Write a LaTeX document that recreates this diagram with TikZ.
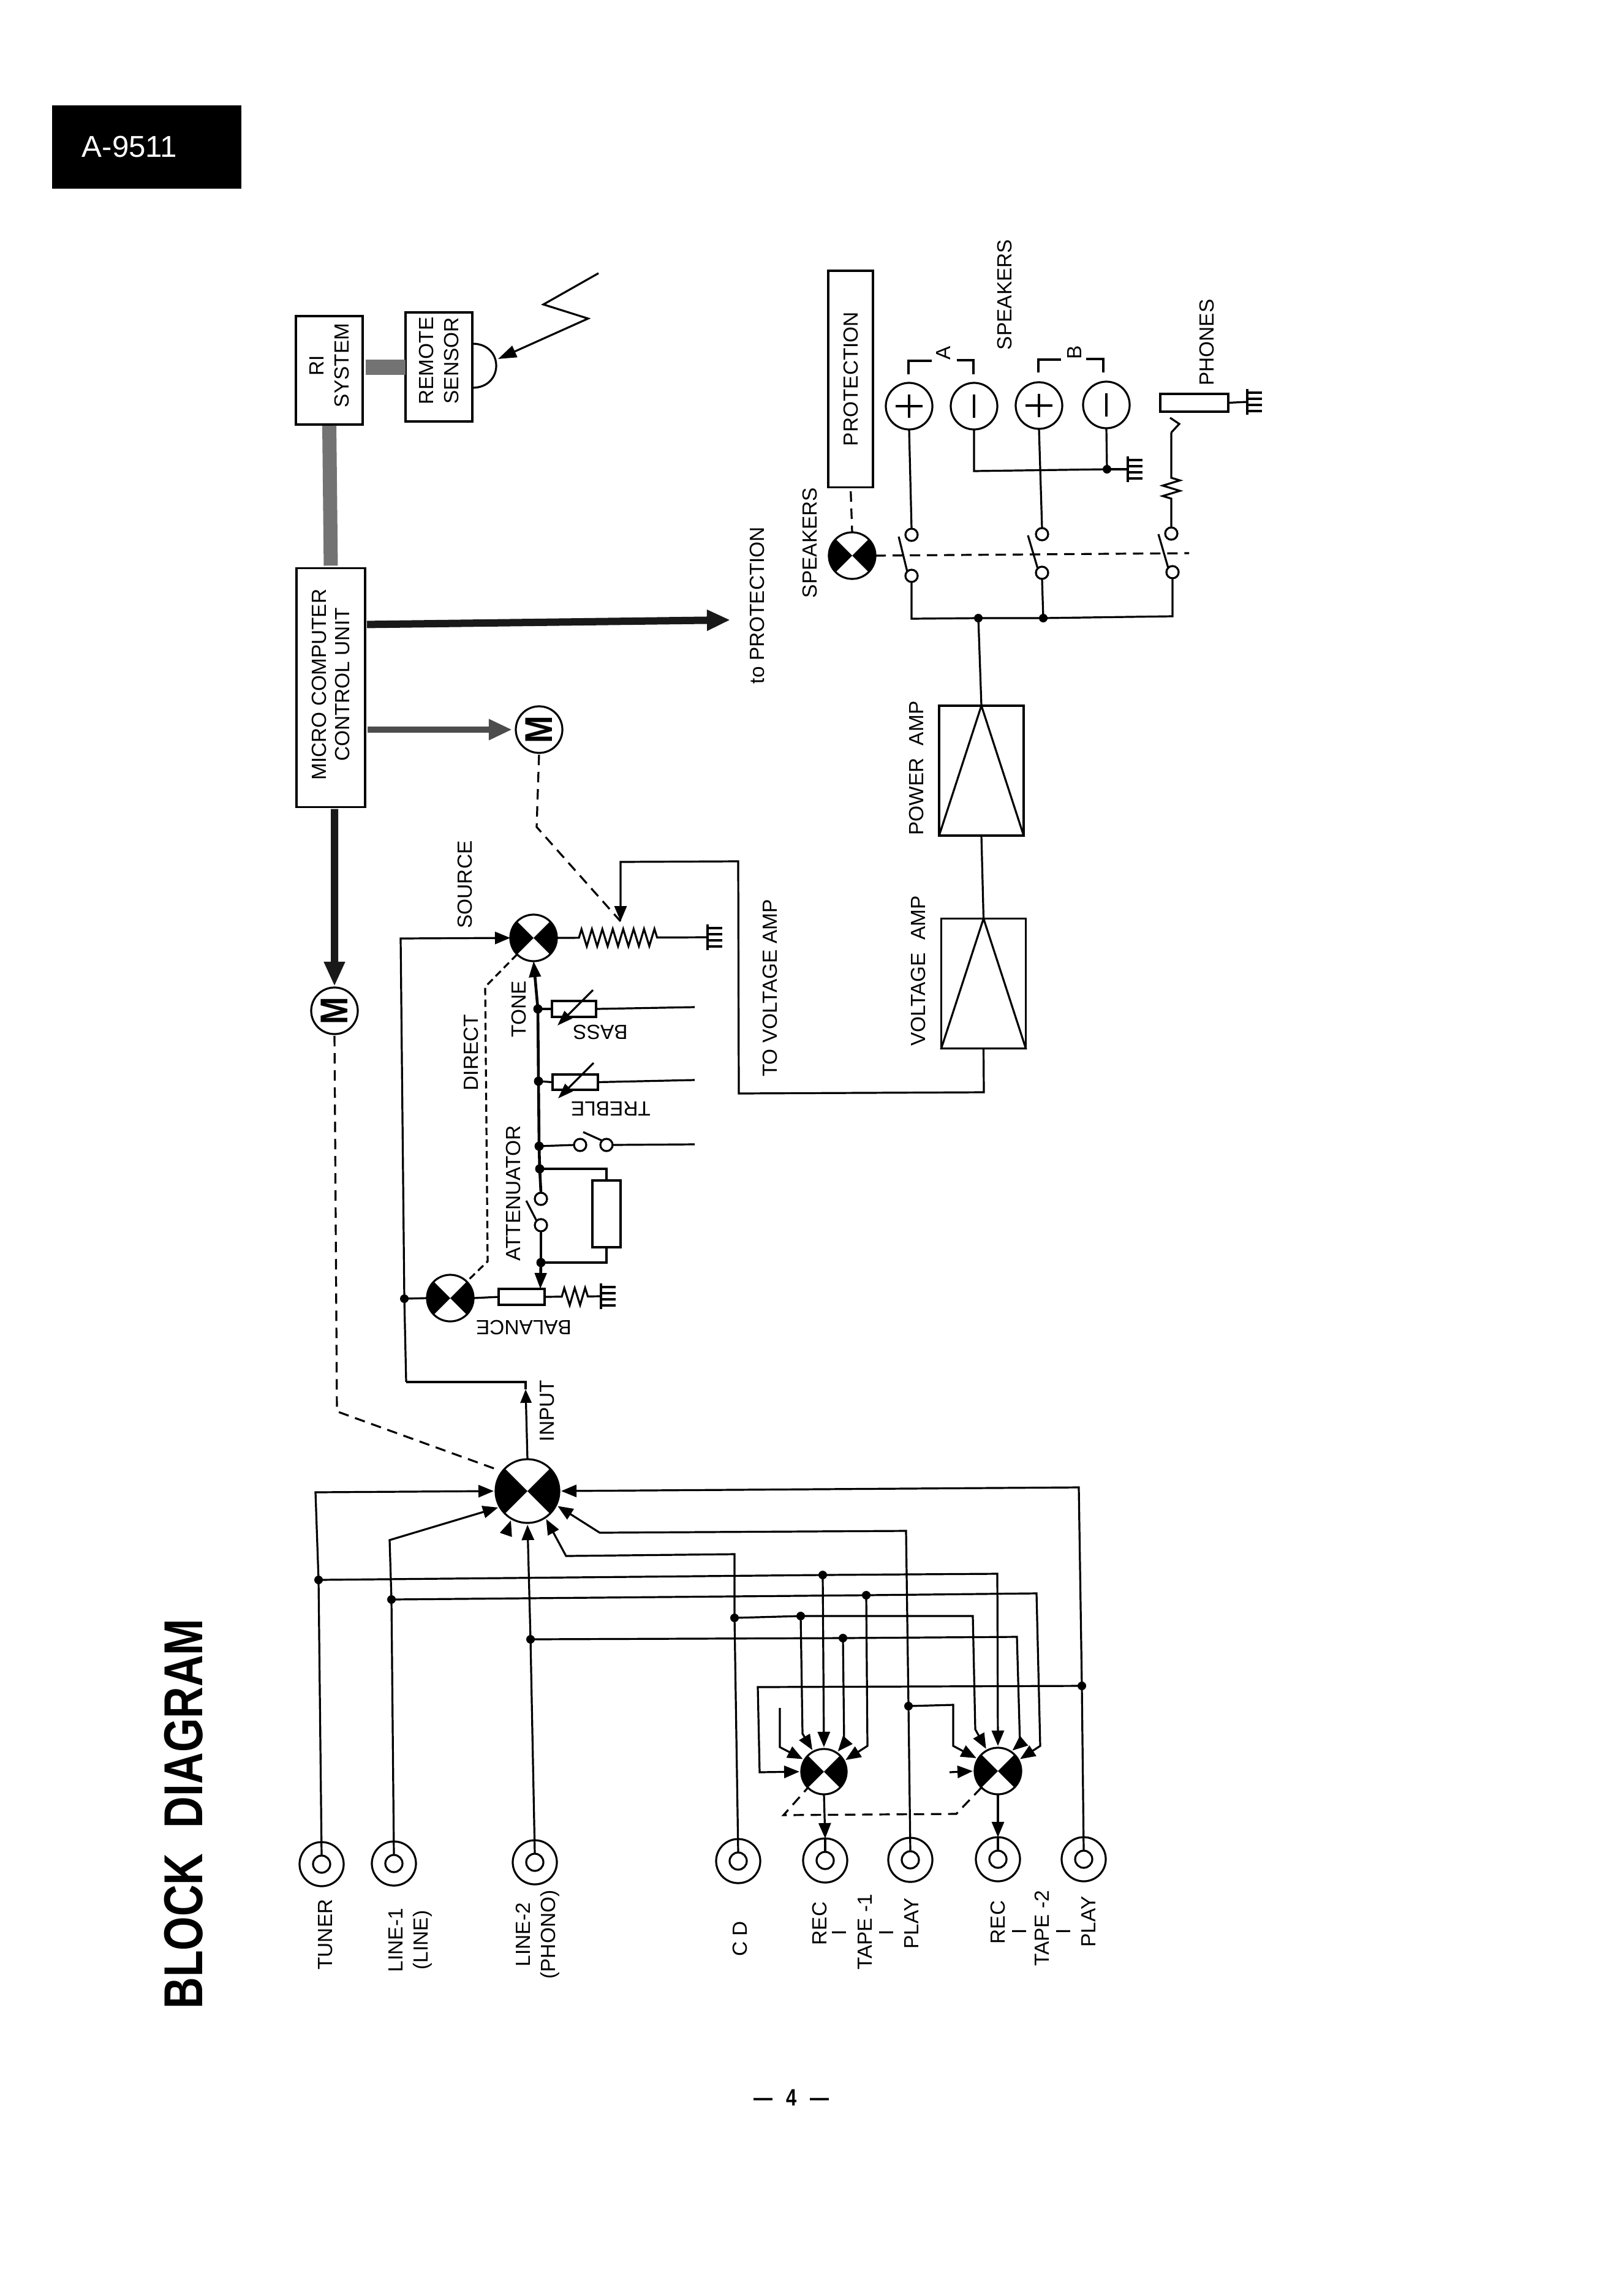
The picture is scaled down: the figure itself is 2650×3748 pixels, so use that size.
\documentclass[tikz,border=0pt]{standalone}
\usepackage{fontspec}
\setmainfont{Liberation Sans}
\usetikzlibrary{arrows.meta,decorations.pathmorphing}
\tikzset{
  wire/.style={line width=.032cm,line join=miter},
  heavy/.style={line width=.046cm},
  arr/.style={wire,-{Triangle[length=.25cm,width=.2cm]},shorten >=.03cm},
  dashline/.style={wire,dash pattern=on .17cm off .11cm},
  finedash/.style={wire,dash pattern=on .12cm off .07cm},
  lbl/.style={rotate=90,font=\fontsize{9.5}{11.5}\selectfont,inner sep=0pt,outer sep=0pt,align=center},
  flip/.style={rotate=180,font=\fontsize{9.5}{11.5}\selectfont,inner sep=0pt,outer sep=0pt},
  plainbox/.style={draw,wire,rectangle,inner sep=0pt,outer sep=0pt},
  dot/.style={circle,fill=black,minimum size=.14cm,inner sep=0pt,outer sep=0pt},
  contact/.style={circle,draw,wire,fill=white,minimum size=.2cm,inner sep=0pt,outer sep=0pt},
  ringin/.style={circle,draw,wire,minimum size=.28cm,inner sep=0pt,outer sep=0pt},
  ringout/.style={circle,draw,wire,minimum size=.72cm,inner sep=0pt,outer sep=0pt},
  spk/.style={circle,draw,wire,minimum size=.76cm,inner sep=0pt,outer sep=0pt},
  motor/.style={circle,draw,wire,rotate=90,minimum size=.76cm,inner sep=0pt,outer sep=0pt},
  selector/.style={circle,draw,wire,fill=white,minimum size=#1,inner sep=0pt,outer sep=0pt,
    path picture={
      \fill[black] (path picture bounding box.center) -- +(135:2cm) -- +(225:2cm) -- cycle;
      \fill[black] (path picture bounding box.center) -- +(45:2cm) -- +(-45:2cm) -- cycle;
    }},
  squiggle/.style n args={2}{wire,decorate,decoration={zigzag,segment length=.17cm,amplitude=.14cm,
    pre=lineto,pre length=#1,post=lineto,post length=#2}},
  gnd/.pic={
    \draw[wire] (0,-21) -- (0,21);
    \draw[wire] (0,-15) -- (24,-15) (0,-5) -- (24,-5) (0,5) -- (24,5) (0,15) -- (24,15);
  },
  busgray/.style={color=black!55},
}
\begin{document}
\begin{tikzpicture}[x=.01cm,y=-.01cm]
\useasboundingbox (0,0) rectangle (2650,3748);
\fill[white] (0,0) rectangle (2650,3748);

% ---- page furniture
\node[fill=black,text=white,minimum width=3.09cm,minimum height=1.36cm,inner sep=0pt,
      font=\fontsize{14}{16}\selectfont] (model) at (239.5,240)
      {\raisebox{-.05cm}{A-9511}\hspace*{.56cm}};
\node[rotate=90,inner sep=0pt] (title) at (300,2961)
      {\scalebox{.8}[1]{\bfseries\fontsize{25.4}{30}\selectfont BLOCK\hspace{.58em}DIAGRAM}};
\node[inner sep=0pt] (page) at (1292,3424)
      {\scalebox{.8}[1]{\bfseries\fontsize{11}{13}\selectfont —\hspace{.7em}4\hspace{.7em}—}};

% ---- control section
\node[plainbox,lbl,minimum width=1.77cm,minimum height=1.09cm] (ri) at (537.5,604.5)
      {\hspace*{.16cm}RI\\\hspace*{.16cm}SYSTEM};
\node[plainbox,lbl,minimum width=1.78cm,minimum height=1.09cm] (remote) at (716.5,599)
      {\hspace*{.2cm}REMOTE\\\hspace*{.2cm}SENSOR};
\node[plainbox,lbl,minimum width=3.9cm,minimum height=1.12cm,font=\fontsize{9.5}{10.8}\selectfont] (micro) at (540,1122.5)
      {\hspace*{.1cm}MICRO COMPUTER\\\hspace*{.1cm}CONTROL UNIT};
\node[motor] (mTop) at (880,1191) {\scalebox{.85}[1]{\bfseries\fontsize{18}{20}\selectfont M}};
\node[motor] (mLow) at (546,1650) {\scalebox{.85}[1]{\bfseries\fontsize{18}{20}\selectfont M}};

\coordinate (domeA) at (771,561);
\coordinate (domeB) at (771,633);
\draw[wire] (domeA) .. controls (823,561) and (823,633) .. (domeB);
\coordinate (wave1) at (977,446);
\coordinate (wave2) at (887,497);
\coordinate (wave3) at (960,520);
\coordinate (waveTip) at (813,586);
\draw[wire,-{Triangle[length=.3cm,width=.2cm]}] (wave1) -- (wave2) -- (wave3) -- (waveTip);

\draw[line width=.25cm,busgray,shorten <=.05cm] (ri.south |- remote.north) -- (remote.north);
\draw[line width=.23cm,busgray,shorten <=.02cm,shorten >=.04cm] (ri.west) -- (micro.east);

\coordinate (protTip) at (1192,1012);
\draw[line width=.12cm,black!90,-{Triangle[length=.38cm,width=.32cm]},shorten <=.03cm]
     ([yshift=1.03cm]micro.south) -- (protTip);
\draw[line width=.1cm,black!70,-{Triangle[length=.38cm,width=.32cm]},shorten <=.04cm,shorten >=.06cm]
     ([yshift=-.685cm]micro.south) -- (mTop.north);
\draw[line width=.12cm,black!90,-{Triangle[length=.4cm,width=.32cm]},shorten <=.03cm,shorten >=.02cm]
     ([xshift=.06cm]micro.west) -- (mLow.east);

% ---- input connectors
\node[ringin] (tTuner) at (525,3043) {};  \node[ringout] (oTuner) at (525,3043) {};
\node[ringin] (tLineA) at (643,3042) {};  \node[ringout] (oLineA) at (643,3042) {};
\node[ringin] (tLineB) at (873,3040) {};  \node[ringout] (oLineB) at (873,3040) {};
\node[ringin] (tCd) at (1205,3038) {};    \node[ringout] (oCd) at (1205,3038) {};
\node[ringin] (tRecA) at (1347,3037) {};  \node[ringout] (oRecA) at (1347,3037) {};
\node[ringin] (tPlayA) at (1486,3036) {}; \node[ringout] (oPlayA) at (1486,3036) {};
\node[ringin] (tRecB) at (1629,3035) {};  \node[ringout] (oRecB) at (1629,3035) {};
\node[ringin] (tPlayB) at (1769,3035) {}; \node[ringout] (oPlayB) at (1769,3035) {};

\node[lbl] (nTuner) at (531,3158) {TUNER};
\node[lbl] (nLineA) at (670,3167) {LINE-1\\(LINE)};
\node[lbl] (nLineB) at (878,3158) {LINE-2\\(PHONO)};
\node[lbl] (nCd) at (1208,3165) {C D};
\node[lbl] (nRecA) at (1338,3140) {REC};
\node[lbl] (nBarA) at (1370,3155) {I};
\node[lbl] (nTapeA) at (1412,3154) {TAPE -1};
\node[lbl] (nBarB) at (1447,3155) {I};
\node[lbl] (nPlayA) at (1488,3140) {PLAY};
\node[lbl] (nRecB) at (1629,3138) {REC};
\node[lbl] (nBarC) at (1664,3153) {I};
\node[lbl] (nTapeB) at (1701,3148) {TAPE -2};
\node[lbl] (nBarD) at (1736,3153) {I};
\node[lbl] (nPlayB) at (1777,3137) {PLAY};

% ---- input selector and tape monitor selectors
\node[selector=1.04cm] (sMain) at (861,2434) {};
\node[selector=.74cm] (sTapeA) at (1345,2892) {};
\node[selector=.76cm] (sTapeB) at (1629,2891) {};

\node[dot] (dTuner) at (520,2579) {};
\node[dot] (dTunerA) at (1343,2571) {};
\node[dot] (dLineA) at (639,2611) {};
\node[dot] (dLineAA) at (1414,2604) {};
\node[dot] (dLineB) at (866,2676) {};
\node[dot] (dLineBA) at (1376,2674) {};
\node[dot] (dCd) at (1199,2641) {};
\node[dot] (dCdA) at (1307,2638) {};
\node[dot] (dPlayA) at (1483,2785) {};
\node[dot] (dPlayB) at (1766,2752) {};

\coordinate (tunerTop) at (515,2436);
\coordinate (tunerEnd) at (1628,2569);
\coordinate (lineAKnee) at (636,2514);
\coordinate (lineAEnd) at (1692,2601);
\coordinate (lineATapeB) at (1698,2850);
\coordinate (lineATapeA) at (1416,2850);
\coordinate (lineBEnd) at (1660,2672);
\coordinate (lineBTapeB) at (1665,2847);
\coordinate (lineBTapeA) at (1378,2847);
\coordinate (cdTop) at (1199,2537);
\coordinate (cdKnee) at (924,2540);
\coordinate (cdEnd) at (1588,2638);
\coordinate (cdTapeB) at (1592,2823);
\coordinate (cdTapeA) at (1310,2830);
\coordinate (playATop) at (1479,2499);
\coordinate (playAKnee) at (979,2502);
\coordinate (playAEnd) at (1556,2783);
\coordinate (playATape) at (1556,2850);
\coordinate (playBTop) at (1761,2428);
\coordinate (playBEnd) at (1237,2754);
\coordinate (playBLow) at (1240,2893);
\coordinate (stubATop) at (1273,2788);
\coordinate (stubAKnee) at (1273,2852);
\coordinate (stubB) at (1550,2893);
\coordinate (stubMain) at (826,2505);

% tuner
\draw[wire] (tTuner.north) -- (dTuner.center);
\draw[arr] (dTuner.center) -- (tunerTop) -- (sMain.180);
\draw[arr] (dTuner.center) -- (dTunerA.center) -- (tunerEnd) -- (sTapeB.90);
\draw[arr] (dTunerA.center) -- (sTapeA.90);
% line 1
\draw[arr] (tLineA.north) -- (dLineA.center) -- (lineAKnee) -- (sMain.210);
\draw[arr] (dLineA.center) -- (dLineAA.center) -- (lineAEnd) -- (lineATapeB) -- (sTapeB.28);
\draw[arr] (dLineAA.center) -- (lineATapeA) -- (sTapeA.28);
% line 2
\draw[arr] (tLineB.north) -- (dLineB.center) -- (sMain.270);
\draw[arr] (dLineB.center) -- (dLineBA.center) -- (lineBEnd) -- (lineBTapeB) -- (sTapeB.56);
\draw[arr] (dLineBA.center) -- (lineBTapeA) -- (sTapeA.56);
% compact disc
\draw[arr] (tCd.north) -- (dCd.center) -- (cdTop) -- (cdKnee) -- (sMain.304);
\draw[arr] (dCd.center) -- (dCdA.center) -- (cdEnd) -- (cdTapeB) -- (sTapeB.118);
\draw[arr] (dCdA.center) -- (cdTapeA) -- (sTapeA.118);
% tape play returns
\draw[arr] (tPlayA.north) -- (dPlayA.center) -- (playATop) -- (playAKnee) -- (sMain.334);
\draw[arr] (dPlayA.center) -- (playAEnd) -- (playATape) -- (sTapeB.149);
\draw[arr] (tPlayB.north) -- (dPlayB.center) -- (playBTop) -- (sMain.0);
\draw[arr] (dPlayB.center) -- (playBEnd) -- (playBLow) -- (sTapeA.180);
% unconnected selector inputs
\draw[arr] (stubATop) -- (stubAKnee) -- (sTapeA.149);
\draw[arr] (stubB) -- (sTapeB.180);
\draw[arr] (stubMain) -- (sMain.240);
% recording outputs
\draw[arr,shorten >=0pt] (sTapeA.south) -- (oRecA.north);
\draw[wire] (oRecA.north) -- (tRecA.north);
\draw[arr,shorten >=0pt] (sTapeB.south) -- (oRecB.north);
\draw[wire] (oRecB.north) -- (tRecB.north);
% mechanical ganging of the tape selectors
\coordinate (gangA) at (1279,2963);
\coordinate (gangB) at (1561,2961);
\draw[dashline] (sTapeB.225) -- (gangB) -- (gangA) -- (sTapeA.225);

\node[lbl] (nInput) at (893,2303) {INPUT};
\coordinate (inputTip) at (858,2268);
\coordinate (inputTop) at (858,2256);
\coordinate (inputLeft) at (663,2256);
\coordinate (sourceCorner) at (654,1532);
\draw[wire,-{Triangle[length=.22cm,width=.18cm]}] (sMain.north) -- (inputTip);
\draw[wire] (inputTip) -- (inputTop) -- (inputLeft);

% ---- source selector, tone and balance
\node[selector=.76cm] (sSource) at (871,1531) {};
\node[selector=.76cm] (sBalance) at (735,2119) {};
\node[dot] (dInput) at (660,2120) {};
\draw[wire] (inputLeft) -- (dInput.center);
\draw[arr,shorten >=0pt] (dInput.center) -- (sourceCorner) -- (sSource.west);
\draw[wire] (dInput.center) -- (sBalance.west);

\node[plainbox,minimum width=.75cm,minimum height=.26cm] (balance) at (851.5,2117) {};
\node[plainbox,minimum width=.72cm,minimum height=.26cm] (bass) at (937,1647) {};
\node[plainbox,minimum width=.74cm,minimum height=.25cm] (treble) at (939,1766.5) {};
\node[plainbox,minimum width=.46cm,minimum height=1.09cm] (attRes) at (990,1981.5) {};

\node[dot,minimum size=.15cm] (dBass) at (878,1647) {};
\node[dot,minimum size=.15cm] (dTreble) at (879,1765) {};
\node[dot,minimum size=.15cm] (dSwitch) at (880,1871) {};
\node[dot,minimum size=.15cm] (dAttA) at (881,1908) {};
\node[dot,minimum size=.15cm] (dAttB) at (883,2061) {};
\node[contact] (cAttA) at (883,1957) {};
\node[contact] (cAttB) at (883,2000) {};
\node[contact] (cFlatA) at (947,1869) {};
\node[contact] (cFlatB) at (990,1869) {};

\draw[heavy,-{Triangle[length=.26cm,width=.19cm]}] (dAttA.center) -- (dSwitch.center) -- (dTreble.center) -- (dBass.center) -- (sSource.south);
\draw[heavy] (dAttA.center) -- (cAttA.north);
\draw[heavy] (cAttB.south) -- (dAttB.center);
\draw[heavy] (dAttA.center) -| (attRes.north);
\draw[heavy] (attRes.south) |- (dAttB.center);
\coordinate (bladeAtt) at (859,1960);
\draw[wire] (bladeAtt) -- (cAttB.north west);
\coordinate (balanceTap) at (882,2104);
\draw[heavy,-{Triangle[length=.26cm,width=.19cm]}] (dAttB.center) -- (balanceTap);

\coordinate (bassOut) at (1134,1644);
\coordinate (trebleOut) at (1134,1763);
\coordinate (flatOut) at (1134,1868);
\draw[wire] (dBass.center) -- (bass.west);
\draw[wire] (bass.east) -- (bassOut);
\draw[wire] (dTreble.center) -- (treble.west);
\draw[wire] (treble.east) -- (trebleOut);
\draw[wire] (dSwitch.center) -- (cFlatA.west);
\draw[wire] (cFlatB.east) -- (flatOut);
\coordinate (bladeFlat) at (952,1848);
\draw[wire] (bladeFlat) -- (cFlatB.north west);
\coordinate (bassVarA) at (968,1616);
\coordinate (bassVarB) at (910,1674);
\draw[wire,-{Triangle[length=.25cm,width=.17cm]}] (bassVarA) -- (bassVarB);
\coordinate (trebleVarA) at (969,1735);
\coordinate (trebleVarB) at (911,1793);
\draw[wire,-{Triangle[length=.25cm,width=.17cm]}] (trebleVarA) -- (trebleVarB);

\draw[wire] (sBalance.east) -- (balance.west);
\pic (gBalance) at (981,2116) {gnd};
\coordinate (gBalancePt) at (981,2116);
\draw[squiggle={.28cm}{.2cm}] (balance.east) -- (gBalancePt);

\pic (gSource) at (1155,1530) {gnd};
\coordinate (gSourcePt) at (1155,1530);
\draw[squiggle={.36cm}{.8cm}] (sSource.east) -- (gSourcePt);

% direct switching link
\coordinate (directA) at (792,1611);
\coordinate (directB) at (796,2059);
\draw[finedash] (sSource.225) -- (directA) -- (directB) -- (sBalance.45);

\node[lbl] (nSource) at (759,1444) {SOURCE};
\node[lbl] (nDirect) at (769,1718) {DIRECT};
\node[lbl] (nTone) at (847,1647) {TONE};
\node[lbl] (nAtt) at (838,1948) {ATTENUATOR};
\node[lbl] (nVolt) at (1257,1613) {TO VOLTAGE AMP};
\node[flip] (nBass) at (980,1685) {BASS};
\node[flip] (nTreble) at (997,1810) {TREBLE};
\node[flip] (nBalance) at (855,2167) {BALANCE};

% volume motor and lines to the main amplifier
\coordinate (wiper) at (1013,1504);
\coordinate (motorKnee) at (876,1350);
\draw[dashline,shorten <=.03cm] (mTop.west) -- (motorKnee) -- (wiper);
\coordinate (inMainKnee) at (550,2304);
\draw[dashline,shorten <=.03cm,shorten >=.05cm] (mLow.west) -- (inMainKnee) -- (sMain.142);

% ---- amplifiers
\node[plainbox,minimum width=1.38cm,minimum height=2.12cm] (power) at (1602,1258) {};
\node[plainbox,minimum width=1.38cm,minimum height=2.12cm] (volt) at (1605.5,1605.5) {};
\draw[wire] (power.north) -- (power.south west) -- (power.south east) -- cycle;
\draw[wire] (volt.north) -- (volt.south west) -- (volt.south east) -- cycle;
\draw[wire] (power.south) -- (volt.north);
\coordinate (fbA) at (1606,1783);
\coordinate (fbB) at (1206,1785);
\coordinate (fbC) at (1205,1406);
\coordinate (fbD) at (1013,1407);
\draw[wire,-{Triangle[length=.25cm,width=.2cm]}] (volt.south) -- (fbA) -- (fbB) -- (fbC) -- (fbD) -- (wiper);
\node[lbl] (nPower) at (1496,1254) {POWER\hspace{.6em}AMP};
\node[lbl] (nVoltAmp) at (1499,1585) {VOLTAGE\hspace{.6em}AMP};

% ---- output switching
\node[plainbox,lbl,minimum width=3.53cm,minimum height=.73cm] (protection) at (1388.5,618.5) {PROTECTION};
\node[lbl] (nToProt) at (1236,988) {to PROTECTION};
\node[selector=.76cm] (sSpk) at (1391,907) {};
\node[lbl] (nSpkA) at (1322,886) {SPEAKERS};
\node[lbl] (nSpkB) at (1640,481) {SPEAKERS};
\node[lbl] (nA) at (1540,576) {A};
\node[lbl] (nB) at (1754,575) {B};
\node[lbl] (nPhones) at (1970,559) {PHONES};

\draw[dashline,shorten <=.07cm] (protection.west) -- (sSpk.north);

\node[spk] (aPlus) at (1484,663) {};
\node[spk] (aMinus) at (1590,663) {};
\node[spk] (bPlus) at (1696,662) {};
\node[spk] (bMinus) at (1806,661) {};
\draw[wire] ([yshift=.19cm]aPlus.center) -- ([yshift=-.19cm]aPlus.center);
\draw[wire] ([xshift=-.22cm]aPlus.center) -- ([xshift=.22cm]aPlus.center);
\draw[wire] ([yshift=.19cm]aMinus.center) -- ([yshift=-.19cm]aMinus.center);
\draw[wire] ([yshift=.19cm]bPlus.center) -- ([yshift=-.19cm]bPlus.center);
\draw[wire] ([xshift=-.22cm]bPlus.center) -- ([xshift=.22cm]bPlus.center);
\draw[wire] ([yshift=.19cm]bMinus.center) -- ([yshift=-.19cm]bMinus.center);

\draw[wire] (1483,611) -- (1483,589) -- (1521,589);
\draw[wire] (1562,588) -- (1589,588) -- (1589,611);
\draw[wire] (1695,608) -- (1695,587) -- (1732,587);
\draw[wire] (1773,586) -- (1801,586) -- (1801,608);

\node[contact] (swAUp) at (1488,873) {};
\node[contact] (swALow) at (1488,940) {};
\node[contact] (swBUp) at (1701,872) {};
\node[contact] (swBLow) at (1701,935) {};
\node[contact] (swCUp) at (1912,871) {};
\node[contact] (swCLow) at (1914,934) {};
\coordinate (bladeA) at (1467,876);
\coordinate (bladeB) at (1678,874);
\coordinate (bladeC) at (1891,872);
\draw[wire] (bladeA) -- (swALow.north west);
\draw[wire] (bladeB) -- (swBLow.north west);
\draw[wire] (bladeC) -- (swCLow.north west);

\draw[wire] (aPlus.south) -- (swAUp.north);
\draw[wire] (bPlus.south) -- (swBUp.north);
\node[dot] (dGnd) at (1807,766) {};
\coordinate (minusCorner) at (1590,769);
\draw[wire] (aMinus.south) -- (minusCorner) -- (dGnd.center);
\draw[wire] (bMinus.south) -- (dGnd.center);
\pic (gSpk) at (1841,766) {gnd};
\coordinate (gSpkPt) at (1841,766);
\draw[wire] (dGnd.center) -- (gSpkPt);

\node[dot] (dBusA) at (1597,1009) {};
\node[dot] (dBusB) at (1703,1009) {};
\coordinate (busLeft) at (1488,1010);
\coordinate (busRight) at (1914,1006);
\draw[wire] (swALow.south) -- (busLeft) -- (dBusA.center) -- (dBusB.center) -- (busRight) -- (swCLow.south);
\draw[wire] (swBLow.south) -- (dBusB.center);
\draw[wire] (dBusA.center) -- (power.north);

\coordinate (gangEnd) at (1941,903);
\draw[dashline] (sSpk.east) -- (gangEnd);

% headphone branch
\node[plainbox,minimum width=1.11cm,minimum height=.29cm] (phones) at (1949.5,657.5) {};
\coordinate (hookA) at (1912,706);
\coordinate (hookB) at (1925,692);
\coordinate (hookC) at (1910,682);
\draw[squiggle={.47cm}{.67cm}] (swCUp.north) -- (hookA);
\draw[wire] (hookA) -- (hookB) -- (hookC);
\pic (gPhones) at (2036,656) {gnd};
\coordinate (gPhonesPt) at (2036,656);
\draw[wire] (phones.east) -- (gPhonesPt);
\end{tikzpicture}
\end{document}
